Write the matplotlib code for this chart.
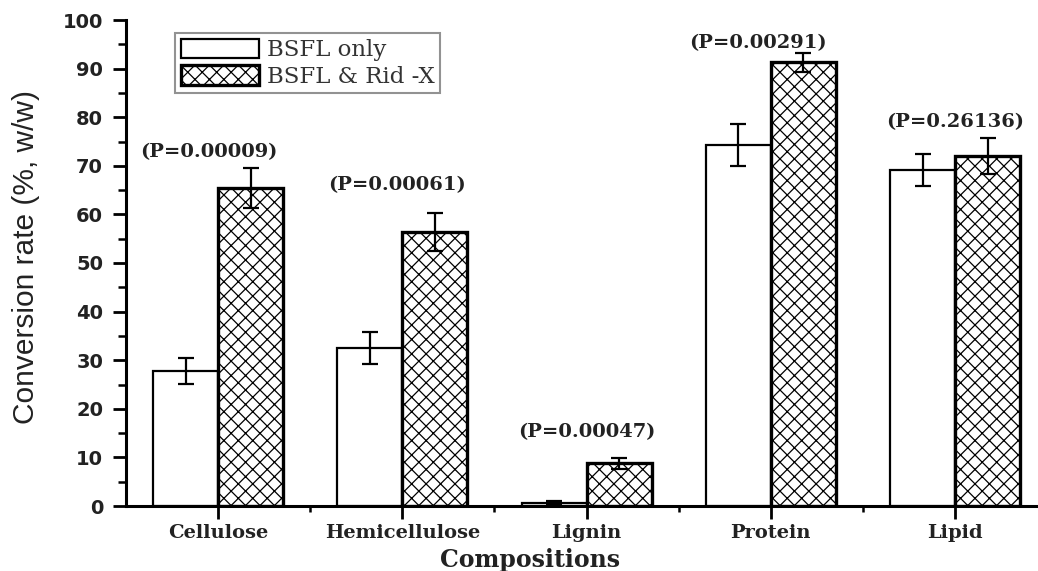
import numpy as np
import matplotlib
matplotlib.use('Agg')
import matplotlib.pyplot as plt
from matplotlib.ticker import MultipleLocator, FixedLocator

# Données
categories = ['Cellulose', 'Hemicellulose', 'Lignin', 'Protein', 'Lipid']
bsfl_only = [27.8, 32.6, 0.7, 74.2, 69.2]
bsfl_only_err = [2.6, 3.3, 0.3, 4.3, 3.3]
bsfl_ridx = [65.4, 56.4, 8.8, 91.3, 72.1]
bsfl_ridx_err = [4.1, 3.9, 1.1, 2.0, 3.7]
p_labels = ['(P=0.00009)', '(P=0.00061)', '(P=0.00047)', '(P=0.00291)', '(P=0.26136)']
p_y = [72.8, 66.0, 15.2, 95.3, 79.0]
p_dx = [-0.05, -0.03, 0.0, -0.07, 0.0]

# dpi 130 pour le hachurage ; S ramène les tailles à l'échelle 100 dpi
DPI = 130
S = 100 / DPI

plt.rcParams['hatch.linewidth'] = 0.9 * S

fig = plt.figure(figsize=(1038 / DPI, 571 / DPI), dpi=DPI)
ax = fig.add_axes([126/1038, 1 - 506/571, 1 - 126/1038, (506 - 20)/571])

x = np.arange(len(categories))
w = 0.353

ax.bar(x - w/2, bsfl_only, w, color='white', edgecolor='black', linewidth=1.6 * S,
       label='BSFL only', zorder=2)
ax.bar(x + w/2, bsfl_ridx, w, color='white', edgecolor='black', linewidth=2.4 * S,
       hatch='xxx', label='BSFL & Rid -X', zorder=2)

ax.errorbar(x - w/2, bsfl_only, yerr=bsfl_only_err, fmt='none', ecolor='black',
            elinewidth=1.6 * S, capsize=5.5 * S, capthick=1.6 * S, zorder=3)
ax.errorbar(x + w/2, bsfl_ridx, yerr=bsfl_ridx_err, fmt='none', ecolor='black',
            elinewidth=1.6 * S, capsize=5.5 * S, capthick=1.6 * S, zorder=3)

for i in range(len(categories)):
    ax.text(x[i] + p_dx[i], p_y[i], p_labels[i], ha='center', va='center',
            fontsize=14 * S, family='DejaVu Serif', fontweight='bold', color='#222222')

ax.set_xlim(-0.5, 4.45)
ax.set_ylim(0, 100)

ax.spines['top'].set_visible(False)
ax.spines['right'].set_visible(False)
ax.spines['left'].set_linewidth(2.2 * S)
ax.spines['bottom'].set_linewidth(2.2 * S)

ax.set_xticks(x)
ax.set_xticklabels(categories, family='DejaVu Serif', fontweight='bold', fontsize=14 * S,
                   color='#222222')
ax.xaxis.set_minor_locator(FixedLocator(x[:-1] + 0.5))
ax.yaxis.set_major_locator(MultipleLocator(10))
ax.yaxis.set_minor_locator(MultipleLocator(5))
ax.tick_params(axis='both', which='major', direction='out', length=9.5 * S, width=2 * S,
               pad=7 * S)
ax.tick_params(axis='both', which='minor', direction='out', length=6 * S, width=1.8 * S)
ax.tick_params(axis='x', which='minor', length=4 * S)
ax.tick_params(axis='x', which='major', pad=3.5 * S)
for lab in ax.get_yticklabels():
    lab.set_family('DejaVu Sans')
    lab.set_fontweight('bold')
    lab.set_fontsize(14 * S)
    lab.set_color('#222222')

ax.set_xlabel('Compositions', family='DejaVu Serif', fontweight='bold', fontsize=17 * S,
              color='#222222', va='center')
ax.xaxis.set_label_coords((530 - 126) / 912, -54 / 486)
ax.set_ylabel('Conversion rate (%, w/w)', family='Liberation Sans',
              fontsize=21.5 * S, color='#222222', va='center')
ax.yaxis.set_label_coords(-(126 - 26) / 912, (506 - 257) / 486)

leg = ax.legend(loc='upper left', bbox_to_anchor=(175/1038, 1 - 33/571),
                bbox_transform=fig.transFigure, frameon=True, fancybox=False,
                handlelength=3.4, handleheight=0.95, handletextpad=0.35,
                borderpad=0.25, labelspacing=0.15, borderaxespad=0,
                prop={'family': 'DejaVu Serif', 'size': 16.5 * S})
leg.get_frame().set_edgecolor('#777777')
leg.get_frame().set_linewidth(1.5 * S)
for t in leg.get_texts():
    t.set_color('#333333')

fig.savefig('out.png', dpi=DPI)
